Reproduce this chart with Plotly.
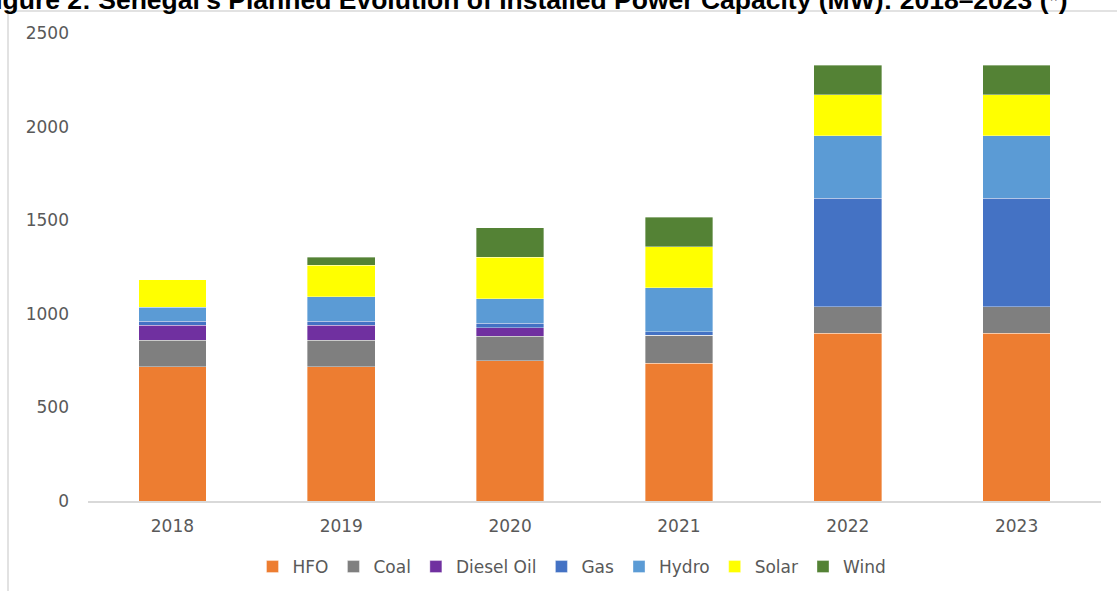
import plotly.graph_objects as go

years = ["2018", "2019", "2020", "2021", "2022", "2023"]
hfo = [716, 716, 749, 737, 896, 896]
coal = [144, 144, 132, 148, 142, 142]
diesel = [79, 79, 45, 0, 0, 0]
gas = [21, 21, 23, 19, 579, 579]
hydro = [76, 131, 132, 234, 333, 333]
solar = [145, 168, 222, 220, 220, 220]
wind = [0, 44, 157, 157, 157, 157]
yticks = [0, 500, 1000, 1500, 2000, 2500]

series = [
    ("HFO", hfo, "#ED7D31"),
    ("Coal", coal, "#7F7F7F"),
    ("Diesel Oil", diesel, "#7030A0"),
    ("Gas", gas, "#4472C4"),
    ("Hydro", hydro, "#5B9BD5"),
    ("Solar", solar, "#FFFF00"),
    ("Wind", wind, "#548235"),
]

W, H = 1117, 591
L, R, T, B = 88, 16, 33, 90
pw, ph = W - L - R, H - T - B

def px_x(p):
    return (p - L) / pw

def px_y(p):
    return (H - B - p) / ph

fig = go.Figure()
for name, vals, col in series:
    fig.add_trace(go.Bar(
        x=years, y=vals, name=name,
        marker=dict(color=col, line=dict(color="rgba(255,255,255,0.45)", width=0.8)),
    ))

fig.update_layout(
    width=W, height=H,
    barmode="stack", bargap=0.6,
    margin=dict(l=L, r=R, t=T, b=B, autoexpand=False),
    plot_bgcolor="white", paper_bgcolor="white",
    font=dict(family="DejaVu Sans", size=17, color="#595959"),
    showlegend=True,
    legend=dict(orientation="h", x=px_x(572), xanchor="center", y=px_y(567), yanchor="middle",
                font=dict(size=17, color="#595959"), traceorder="normal"),
    xaxis=dict(showline=True, linecolor="#d9d9d9", linewidth=1.5, ticks="", showgrid=False,
               tickfont=dict(size=17, color="#595959"), ticklabelstandoff=9),
    yaxis=dict(range=[0, 2500], tickvals=yticks, showgrid=False, showline=False, zeroline=False,
               ticks="", tickfont=dict(size=17, color="#595959"), ticklabelstandoff=18),
    shapes=[dict(type="rect", xref="paper", yref="paper",
                 x0=px_x(8), x1=px_x(1125), y0=px_y(600), y1=px_y(11),
                 line=dict(color="#d9d9d9", width=1.5), layer="below")],
    annotations=[dict(text="Figure 2: Senegal's Planned Evolution of Installed Power Capacity (MW): 2018–2023 (*)",
                      xref="paper", yref="paper", x=px_x(-23), y=px_y(17), xanchor="left", yanchor="bottom",
                      showarrow=False,
                      font=dict(family="Liberation Sans", size=26.5, color="black", weight="bold"))],
)

fig.write_html("out.html", config={"displayModeBar": False},
               post_script="document.body.style.margin='0';document.body.style.overflow='hidden';")
